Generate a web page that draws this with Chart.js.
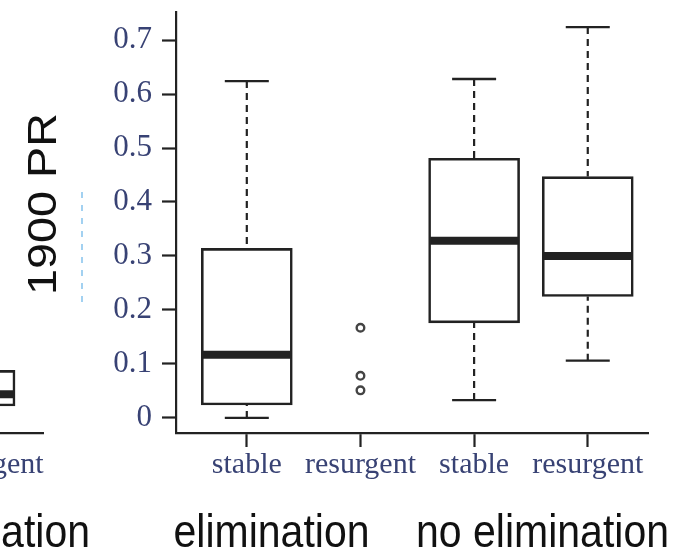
<!DOCTYPE html>
<html>
<head>
<meta charset="utf-8">
<script src="https://cdn.jsdelivr.net/npm/chart.js@4.4.1/dist/chart.umd.min.js"></script>
<style>
  html, body { margin: 0; padding: 0; background: #fff; overflow: hidden; }
  #wrap { position: relative; width: 679px; height: 554px; overflow: hidden; }
  #side { position: absolute; left: -257px; top: 0; width: 350px; height: 554px; }
  #main { position: absolute; left: 0; top: 0; width: 679px; height: 554px; }
</style>
</head>
<body>
<div id="wrap">
  <div id="side"><canvas id="sideChart"></canvas></div>
  <div id="main"><canvas id="mainChart"></canvas></div>
</div>
<script>
const categories = ['stable', 'resurgent', 'stable', 'resurgent'];
const groupNames = ['elimination', 'no elimination'];

// five-number summaries per category (null = no box)
const whiskerLow  = [0.000, null, 0.033, 0.106];
const lowerQuart  = [0.024, null, 0.176, 0.225];
const medians     = [0.117, null, 0.328, 0.300];
const upperQuart  = [0.314, null, 0.481, 0.447];
const whiskerHigh = [0.624, null, 0.628, 0.724];
const outliers    = [[], [0.167, 0.078, 0.051], [], []];

// neighbouring panel on the left, only its last box is in view
const sideLow    = [null, null, null, 0.022];
const sideQ1     = [null, null, null, 0.022];
const sideMedian = [null, null, null, 0.044];
const sideQ3     = [null, null, null, 0.088];
const sideHigh   = [null, null, null, 0.088];

const yTicks      = [0, 0.1, 0.2, 0.3, 0.4, 0.5, 0.6, 0.7];
const yTickLabels = ['0', '0.1', '0.2', '0.3', '0.4', '0.5', '0.6', '0.7'];

const INK = '#222';
const LABEL = '#384274';
const SERIF = '"Liberation Serif", "Times New Roman", serif';
const SANS = '"Liberation Sans", Arial, sans-serif';

// whiskers, caps and the thick median bar on top of the floating bars
const boxWhiskers = {
  id: 'boxWhiskers',
  afterDatasetsDraw(chart, args, opts) {
    const ctx = chart.ctx;
    const x = chart.scales.x, y = chart.scales.y;
    const s = opts.stats;
    ctx.save();
    ctx.strokeStyle = INK;
    s.q1.forEach((q1, i) => {
      if (q1 == null) return;
      const cx = x.getPixelForValue(i + 1);
      const yq1 = y.getPixelForValue(q1), yq3 = y.getPixelForValue(s.q3[i]);
      const ylo = y.getPixelForValue(s.lo[i]), yhi = y.getPixelForValue(s.hi[i]);

      ctx.lineWidth = 2.2;
      ctx.setLineDash([7, 5]);
      ctx.beginPath();
      if (s.hi[i] > s.q3[i]) { ctx.moveTo(cx, yhi); ctx.lineTo(cx, yq3); }
      if (s.lo[i] < q1) { ctx.moveTo(cx, ylo); ctx.lineTo(cx, yq1); }
      ctx.stroke();
      ctx.setLineDash([]);

      const cap = opts.capWidth / 2;
      ctx.lineWidth = 2.4;
      ctx.beginPath();
      if (s.hi[i] > s.q3[i]) { ctx.moveTo(cx - cap, yhi); ctx.lineTo(cx + cap, yhi); }
      if (s.lo[i] < q1) { ctx.moveTo(cx - cap, ylo); ctx.lineTo(cx + cap, ylo); }
      ctx.stroke();

      const hb = opts.boxWidth / 2 - 1.5;
      const ym = y.getPixelForValue(s.med[i]);
      ctx.lineWidth = 8;
      ctx.beginPath();
      ctx.moveTo(cx - hb, ym);
      ctx.lineTo(cx + hb, ym);
      ctx.stroke();
    });
    ctx.restore();
  }
};

// group names under the axis, y title and the faint guide
const panelText = {
  id: 'panelText',
  afterDraw(chart, args, opts) {
    const ctx = chart.ctx;
    ctx.save();
    ctx.fillStyle = '#111';
    (opts.groups || []).forEach(g => {
      ctx.save();
      ctx.font = '41px ' + SANS;
      ctx.textAlign = g.align || 'center';
      ctx.textBaseline = 'alphabetic';
      ctx.translate(g.x, 547);
      ctx.scale(1, 1.12);
      ctx.fillText(g.text, 0, 0);
      ctx.restore();
    });
    if (opts.title) {
      ctx.save();
      ctx.font = '40px ' + SANS;
      ctx.textAlign = 'center';
      ctx.textBaseline = 'alphabetic';
      ctx.translate(56, 204);
      ctx.scale(1, 1.17);
      ctx.rotate(-Math.PI / 2);
      ctx.fillText(opts.title, 0, 0);
      ctx.restore();

      ctx.strokeStyle = '#8cc6ee';
      ctx.lineWidth = 1.6;
      ctx.setLineDash([6, 7]);
      ctx.beginPath();
      ctx.moveTo(82, 192);
      ctx.lineTo(82, 302);
      ctx.stroke();
    }
    ctx.restore();
  }
};

function boxData(q1, q3) {
  return q1.map((v, i) => v == null ? null : { x: i + 1, y: [v, q3[i]] }).filter(Boolean);
}

function xAxis(min, max) {
  return {
    type: 'linear',
    offset: false,
    min: min,
    max: max,
    afterBuildTicks: s => { s.ticks = categories.map((c, i) => ({ value: i + 1 })); },
    afterFit: s => { s.height = 121; s.paddingLeft = 0; s.paddingRight = 0; },
    grid: { offset: false, drawOnChartArea: false, drawTicks: true, tickLength: 14, tickWidth: 2.2, tickColor: INK },
    border: { display: true, color: INK, width: 2.2 },
    ticks: {
      autoSkip: false, maxRotation: 0, minRotation: 0, padding: 0,
      color: LABEL, font: { family: SERIF, size: 30 },
      callback: (v, i) => categories[i]
    }
  };
}

function yAxis(show) {
  return {
    display: show,
    min: -0.028,
    max: 0.752,
    afterBuildTicks: s => { s.ticks = yTicks.map(v => ({ value: v })); },
    afterFit: s => {
      s.width = show ? 176 : 0;
      s.paddingTop = 0;
      s.paddingBottom = 0;
    },
    grid: { drawOnChartArea: false, drawTicks: true, tickLength: 14, tickWidth: 2.2, tickColor: INK },
    border: { display: true, color: INK, width: 2.2 },
    ticks: {
      padding: 10, color: LABEL, font: { family: SERIF, size: 31 },
      callback: (v, i) => yTickLabels[i]
    }
  };
}

const barStyle = {
  backgroundColor: '#fff',
  borderColor: INK,
  borderWidth: 2.6,
  borderSkipped: false
};

new Chart('sideChart', {
  type: 'bar',
  data: {
    datasets: [Object.assign({ data: boxData(sideQ1, sideQ3), barThickness: 54 }, barStyle)]
  },
  options: {
    responsive: true,
    maintainAspectRatio: false,
    animation: false,
    layout: { padding: { top: 12, right: 50, left: 0, bottom: 0 } },
    scales: { x: xAxis(1.851, 4.482), y: yAxis(false) },
    plugins: {
      legend: { display: false },
      tooltip: { enabled: false },
      boxWhiskers: {
        boxWidth: 54, capWidth: 27,
        stats: { lo: sideLow, q1: sideQ1, med: sideMedian, q3: sideQ3, hi: sideHigh }
      },
      panelText: { groups: [{ text: groupNames[1], x: 347, align: 'right' }] }
    }
  },
  plugins: [boxWhiskers, panelText]
});

const outlierPoints = [];
outliers.forEach((vals, i) => vals.forEach(v => outlierPoints.push({ x: i + 1, y: v })));

new Chart('mainChart', {
  type: 'bar',
  data: {
    datasets: [
      Object.assign({ data: boxData(lowerQuart, upperQuart), barThickness: 91 }, barStyle),
      {
        type: 'scatter',
        data: outlierPoints,
        pointStyle: 'circle',
        pointRadius: 3.8,
        borderWidth: 2.4,
        borderColor: '#444',
        backgroundColor: '#fff'
      }
    ]
  },
  options: {
    responsive: true,
    maintainAspectRatio: false,
    animation: false,
    layout: { padding: { top: 12, right: 31, left: 0, bottom: 0 } },
    scales: { x: xAxis(0.377, 4.53), y: yAxis(true) },
    plugins: {
      legend: { display: false },
      tooltip: { enabled: false },
      boxWhiskers: {
        boxWidth: 91, capWidth: 44,
        stats: { lo: whiskerLow, q1: lowerQuart, med: medians, q3: upperQuart, hi: whiskerHigh }
      },
      panelText: {
        title: '1900 PR',
        groups: [
          { text: groupNames[0], x: 271.5 },
          { text: groupNames[1], x: 542.5 }
        ]
      }
    }
  },
  plugins: [boxWhiskers, panelText]
});
</script>
</body>
</html>
